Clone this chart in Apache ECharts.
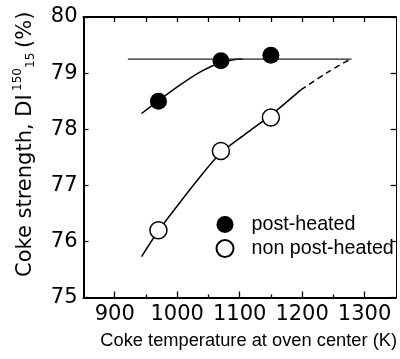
<!DOCTYPE html>
<html>
<head>
<meta charset="utf-8">
<script src="https://cdn.jsdelivr.net/npm/echarts@6/dist/echarts.min.js"></script>
<style>
html,body{margin:0;padding:0;background:#fff;}
#chart{width:400px;height:359px;}
</style>
</head>
<body>
<div id="chart"></div>
<script>
// ---- data ----
const postHeatedX = [970, 1070, 1150];
const postHeatedY = [78.50, 79.22, 79.32];
const nonPostHeatedX = [970, 1070, 1150];
const nonPostHeatedY = [76.20, 77.61, 78.21];

const postCurveX = [943, 970, 1010, 1040, 1070, 1090, 1105];
const postCurveY = [78.28, 78.51, 78.83, 79.04, 79.19, 79.24, 79.25];

const plateauX = [921, 1279];
const plateauY = [79.25, 79.25];

const nonCurveX = [943, 970, 1000, 1030, 1070, 1110, 1150, 1198];
const nonCurveY = [75.73, 76.19, 76.63, 77.06, 77.58, 77.92, 78.25, 78.70];

const nonDashX = [1198, 1240, 1279];
const nonDashY = [78.70, 79.01, 79.26];

const xMajorTicks = [900, 1000, 1100, 1200, 1300];
const xMinorTicks = [950, 1050, 1150, 1250];
const xTopTicks = [900, 950, 1000, 1050, 1100, 1150, 1200, 1250, 1300];

const legendNames = ['post-heated', 'non post-heated'];
const xTitle = 'Coke temperature at oven center (K)';

function pairs(xs, ys) { return xs.map((x, i) => [x, ys[i]]); }

const tickFont = '"DejaVu Sans", sans-serif';
const textFont = '"Liberation Sans", Arial, Helvetica, sans-serif';

const chart = echarts.init(document.getElementById('chart'), null, {renderer: 'canvas'});

const option = {
  animation: false,
  backgroundColor: '#fff',
  grid: {left: 83.5, top: 17, width: 316, height: 280.5, containLabel: false},
  xAxis: [
    {
      type: 'value', position: 'bottom', min: 850, max: 1350,
      axisLine: {show: true, lineStyle: {color: '#000', width: 2}},
      axisTick: {show: true, inside: true, length: 6, customValues: xMajorTicks, lineStyle: {color: '#000', width: 1.3}},
      axisLabel: {show: true, customValues: xMajorTicks, margin: 7, color: '#000', fontSize: 21, fontFamily: tickFont,
        formatter: function (v) { return String(v); }},
      splitLine: {show: false},
      name: xTitle, nameLocation: 'middle', nameGap: 34,
      nameTextStyle: {color: '#000', fontSize: 18.3, fontFamily: textFont, padding: [0, 0, 0, 18]}
    },
    {
      type: 'value', position: 'bottom', min: 850, max: 1350,
      axisLine: {show: false},
      axisTick: {show: true, inside: true, length: 3, customValues: xMinorTicks, lineStyle: {color: '#000', width: 1.3}},
      axisLabel: {show: false},
      splitLine: {show: false}
    },
    {
      type: 'value', position: 'top', min: 850, max: 1350,
      axisLine: {show: true, lineStyle: {color: '#000', width: 2}},
      axisTick: {show: true, inside: true, length: 5, customValues: xTopTicks, lineStyle: {color: '#000', width: 1.3}},
      axisLabel: {show: false},
      splitLine: {show: false}
    }
  ],
  yAxis: [
    {
      type: 'value', position: 'left', min: 75, max: 80, interval: 1,
      axisLine: {show: true, lineStyle: {color: '#000', width: 2}},
      axisTick: {show: true, inside: true, length: 5, lineStyle: {color: '#000', width: 1.3}},
      axisLabel: {show: true, margin: 6, color: '#000', fontSize: 21, fontFamily: tickFont},
      splitLine: {show: false}
    },
    {
      type: 'value', position: 'right', min: 75, max: 80, interval: 1,
      axisLine: {show: true, lineStyle: {color: '#000', width: 1}},
      axisTick: {show: true, inside: true, length: 5, lineStyle: {color: '#000', width: 1.3}},
      axisLabel: {show: false},
      splitLine: {show: false}
    }
  ],
  legend: {
    show: true, data: legendNames, orient: 'vertical',
    left: 215.5, top: 214.5, itemWidth: 17, itemHeight: 17, itemGap: 4,
    padding: 0,
    textStyle: {color: '#000', fontSize: 19.7, fontFamily: textFont, padding: [0, 0, 0, 13]}
  },
  series: [
    {
      type: 'line', name: 'post-heated fit', data: pairs(postCurveX, postCurveY),
      smooth: 0.3, showSymbol: false, silent: true, z: 2,
      lineStyle: {color: '#000', width: 1.5}
    },
    {
      type: 'line', name: 'plateau', data: pairs(plateauX, plateauY),
      showSymbol: false, silent: true, z: 2,
      lineStyle: {color: '#222', width: 1.2}
    },
    {
      type: 'line', name: 'non post-heated fit', data: pairs(nonCurveX, nonCurveY),
      smooth: 0.3, showSymbol: false, silent: true, z: 2,
      lineStyle: {color: '#000', width: 1.5}
    },
    {
      type: 'line', name: 'non post-heated extrapolation', data: pairs(nonDashX, nonDashY),
      smooth: 0.3, showSymbol: false, silent: true, z: 2,
      lineStyle: {color: '#000', width: 1.5, type: [6, 4]}
    },
    {
      type: 'scatter', name: 'post-heated', data: pairs(postHeatedX, postHeatedY),
      symbol: 'circle', symbolSize: 17, z: 5,
      itemStyle: {color: '#000', borderColor: '#000', borderWidth: 0, opacity: 1}
    },
    {
      type: 'scatter', name: 'non post-heated', data: pairs(nonPostHeatedX, nonPostHeatedY),
      symbol: 'circle', symbolSize: 17, z: 5,
      itemStyle: {color: '#fff', borderColor: '#000', borderWidth: 1.5, opacity: 1}
    }
  ],
  graphic: [
    {
      type: 'group', x: 25.5, y: 277, rotation: Math.PI / 2,
      children: [
        {type: 'text', x: 0, y: 0, style: {text: 'Coke strength, DI', fontSize: 21, fontFamily: tickFont, fill: '#000', align: 'left', verticalAlign: 'middle'}},
        {type: 'text', x: 186, y: -8, style: {text: '150', fontSize: 12, fontFamily: tickFont, fill: '#000', align: 'left', verticalAlign: 'middle'}},
        {type: 'text', x: 209, y: 5, style: {text: '15', fontSize: 12, fontFamily: tickFont, fill: '#000', align: 'left', verticalAlign: 'middle'}},
        {type: 'text', x: 229, y: 0, style: {text: '(%)', fontSize: 21, fontFamily: tickFont, fill: '#000', align: 'left', verticalAlign: 'middle'}}
      ]
    }
  ]
};

chart.setOption(option);
</script>
</body>
</html>
